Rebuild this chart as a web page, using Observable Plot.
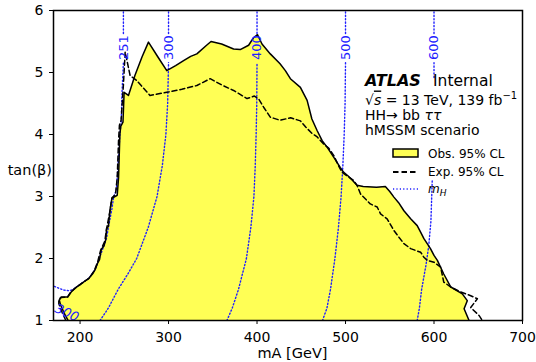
<!DOCTYPE html>
<html><head><meta charset="utf-8">
<script src="https://cdn.jsdelivr.net/npm/d3@7"></script>
<script src="https://cdn.jsdelivr.net/npm/@observablehq/plot@0.6"></script>
<style>body{margin:0;background:#fff;} #chart{width:536px;height:362px;}</style>
</head><body><div id="chart"></div>
<script>
// Observed 95% CL exclusion contour (mA [GeV], tanβ)
const obsMA = [186.5,182,178,176.5,179,186,190,195,200,205,210,214,217,220,222,224,227,229,230,232,234,236,242,243.5,245,246,248.5,249.8,254.7,262,270,277.3,288,298,308,317,325,332,343,348,360,373.5,381,390.5,396,400.5,405.6,415,426,432,437.7,449,456.6,462,468,473.6,479,486.8,494,498,503,508,513,520,535,545,550,554.7,560,566,573.6,581,585,588.6,596,600,603.8,611,619,632,637.6,634,639.6];
const obsTanB = [1.00,1.12,1.25,1.33,1.38,1.38,1.46,1.53,1.58,1.63,1.68,1.75,1.82,1.93,1.98,2.15,2.20,2.30,2.48,2.52,2.80,2.97,3.02,3.30,4.00,4.13,4.20,4.68,4.63,4.95,5.25,5.49,5.25,5.03,5.11,5.19,5.26,5.30,5.44,5.50,5.46,5.38,5.37,5.44,5.56,5.61,5.46,5.30,5.14,5.03,4.90,4.76,4.55,4.25,4.06,3.90,3.80,3.63,3.47,3.39,3.33,3.26,3.18,3.16,3.15,3.16,3.08,2.99,2.90,2.77,2.64,2.53,2.42,2.32,2.16,2.05,1.97,1.75,1.54,1.43,1.32,1.19,1.00];

// Expected 95% CL exclusion contour
const expMA = [184,180,176,176,178,186,190,200,210,216,220,223,228,230,234,236,240,242,243.5,244.5,246.4,249,251,256.6,264,279,298,315,332,347,360,373.5,388.7,397,402,407.5,415,426,438,449,455,462,468,475,481,486.8,492,496,503,509,513,517,528,535.8,539.6,547,554.7,560,566,573.6,585,588.6,592.4,600,607.5,609.4,611,619,630,641.5,649,641.5,651,654.7];
const expTanB = [1.00,1.12,1.27,1.33,1.37,1.38,1.47,1.58,1.68,1.80,1.95,2.12,2.28,2.48,2.78,2.98,3.03,3.30,3.90,4.15,4.23,4.80,5.33,4.95,4.87,4.63,4.68,4.73,4.79,4.90,4.80,4.71,4.58,4.62,4.57,4.44,4.28,4.23,4.27,4.22,4.12,4.02,3.96,3.85,3.78,3.66,3.50,3.39,3.32,3.26,3.18,3.04,2.88,2.83,2.72,2.64,2.45,2.35,2.24,2.16,2.10,2.02,1.97,1.94,1.86,1.73,1.62,1.54,1.46,1.40,1.35,1.21,1.08,1.00];

// m_H iso-contours (NaN = gap where an inline label or the text block sits)
const mH251MA = [171,176,182,188,192,200,210,217,221,226,230,232,236,238,241,243,245,246.5,247.5,248.5,249,NaN,249,249];
const mH251TanB = [1.55,1.52,1.49,1.48,1.50,1.58,1.68,1.82,1.97,2.17,2.33,2.50,2.80,3.00,3.10,3.50,4.00,4.20,4.70,5.00,5.16,NaN,5.63,6.00];
const mH300MA = [222.6,232,243,254,264,277,287,293,297,299,300,NaN,300,300];
const mH300TanB = [1.00,1.20,1.50,1.75,2.00,2.50,3.00,3.50,4.00,4.50,5.16,NaN,5.63,6.00];
const mH400MA = [366,372,379,388,393,396.5,398,399,399.7,400,NaN,400,400];
const mH400TanB = [1.00,1.20,1.50,2.00,2.50,3.00,3.50,4.00,4.50,5.16,NaN,5.63,6.00];
const mH500MA = [474,479,483,488,492,495,497,498.5,499.5,500,NaN,500,500];
const mH500TanB = [1.00,1.20,1.50,2.00,2.50,3.00,3.50,4.00,4.50,5.16,NaN,5.63,6.00];
const mH600MA = [581,583.5,586,591,594,596.5,598,NaN,600,600,NaN,600,600];
const mH600TanB = [1.00,1.20,1.50,1.90,2.20,2.60,3.26,NaN,4.92,5.16,NaN,5.63,6.00];

const contourLabels = ["251","300","400","500","600"];
const contourLabelMA = [249,300,400,500,600];
const contourLabelTanB = [5.40,5.40,5.40,5.40,5.40];

const xTicks = [200,300,400,500,600,700];
const yTicks = [1,2,3,4,5,6];

const pts = (xs, ys) => xs.map((x, i) => ({x, y: ys[i]}));
const obs = pts(obsMA, obsTanB);
const exp = pts(expMA, expTanB);
const contours = [pts(mH251MA,mH251TanB), pts(mH300MA,mH300TanB), pts(mH400MA,mH400TanB), pts(mH500MA,mH500TanB), pts(mH600MA,mH600TanB)];
const labels = contourLabels.map((t, i) => ({t, x: contourLabelMA[i], y: contourLabelTanB[i]}));

const blue = "#1f1fff";
const dotted = {stroke: blue, strokeWidth: 1.4, strokeDasharray: "1.2,2.2", clip: true};

const plot = Plot.plot({
  width: 536, height: 362,
  marginLeft: 53, marginRight: 14, marginTop: 10, marginBottom: 42,
  style: {fontFamily: "DejaVu Sans", fontSize: "14px", color: "black", background: "white"},
  x: {domain: [170, 700]},
  y: {domain: [1, 6]},
  marks: [
    Plot.line(obs, {x: "x", y: "y", fill: "#ffff55", stroke: "none", clip: true}),
    ...contours.map(c => Plot.line(c, {x: "x", y: "y", ...dotted})),
    Plot.line(exp, {x: "x", y: "y", stroke: "black", strokeWidth: 1.5, strokeDasharray: "5,3", clip: true}),
    Plot.line(obs, {x: "x", y: "y", stroke: "black", strokeWidth: 1.5, clip: true}),
    Plot.text(labels, {x: "x", y: "y", text: "t", rotate: -90, fill: blue, fontSize: 13}),
    Plot.text(["300"], {x: [185], y: [1.12], text: d => d, rotate: 25, fill: blue, fontSize: 13, fontStyle: "italic"}),
    Plot.axisX({ticks: xTicks, tickSize: 4, tickPadding: 8, label: null, fontSize: 14}),
    Plot.axisY({ticks: yTicks, tickSize: 4, tickPadding: 6, label: null, tickFormat: d3.format("d"), fontSize: 14}),
    Plot.frame({stroke: "black", strokeWidth: 1.5})
  ]
});
document.getElementById("chart").appendChild(plot);

// Annotations and legend
const svg = d3.select(plot);
const g = svg.append("g").attr("font-family", "DejaVu Sans").attr("fill", "black").attr("text-anchor", "start");
g.append("text").attr("x", 52).attr("y", 174.5).attr("text-anchor", "end").attr("font-size", 14.5).text("tan(β)");
g.append("text").attr("x", 292.5).attr("y", 358).attr("text-anchor", "middle").attr("font-size", 14.5).text("mA [GeV]");

g.append("text").attr("x", 365).attr("y", 86).attr("font-size", 16).attr("font-weight", "bold").attr("font-style", "italic").text("ATLAS");
g.append("text").attr("x", 433).attr("y", 86).attr("font-size", 15.5).text("Internal");
const t2 = g.append("text").attr("x", 365).attr("y", 104.5).attr("font-size", 14);
t2.append("tspan").text("√");
t2.append("tspan").attr("font-style", "italic").attr("text-decoration", "overline").text("s");
t2.append("tspan").text(" = 13 TeV, 139 fb");
t2.append("tspan").attr("dy", -6).attr("font-size", 10).text("−1");
const t3 = g.append("text").attr("x", 365).attr("y", 120).attr("font-size", 14);
t3.append("tspan").text("HH→ bb ");
t3.append("tspan").attr("font-style", "italic").text("ττ");
g.append("text").attr("x", 365).attr("y", 135).attr("font-size", 14).text("hMSSM scenario");

g.append("rect").attr("x", 393).attr("y", 149).attr("width", 25).attr("height", 8).attr("fill", "#ffff55").attr("stroke", "black").attr("stroke-width", 1.5);
g.append("text").attr("x", 428).attr("y", 157.5).attr("font-size", 12).text("Obs. 95% CL");
g.append("line").attr("x1", 393).attr("x2", 418).attr("y1", 172).attr("y2", 172).attr("stroke", "black").attr("stroke-width", 2).attr("stroke-dasharray", "5.5,3");
g.append("text").attr("x", 428).attr("y", 176).attr("font-size", 12).text("Exp. 95% CL");
g.append("line").attr("x1", 393).attr("x2", 418).attr("y1", 189).attr("y2", 189).attr("stroke", blue).attr("stroke-width", 1.5).attr("stroke-dasharray", "1.2,2.2");
const t4 = g.append("text").attr("x", 428).attr("y", 193).attr("font-size", 12).attr("font-style", "italic");
t4.append("tspan").text("m");
t4.append("tspan").attr("dy", 3).attr("font-size", 9).text("H");
</script>
</body></html>
